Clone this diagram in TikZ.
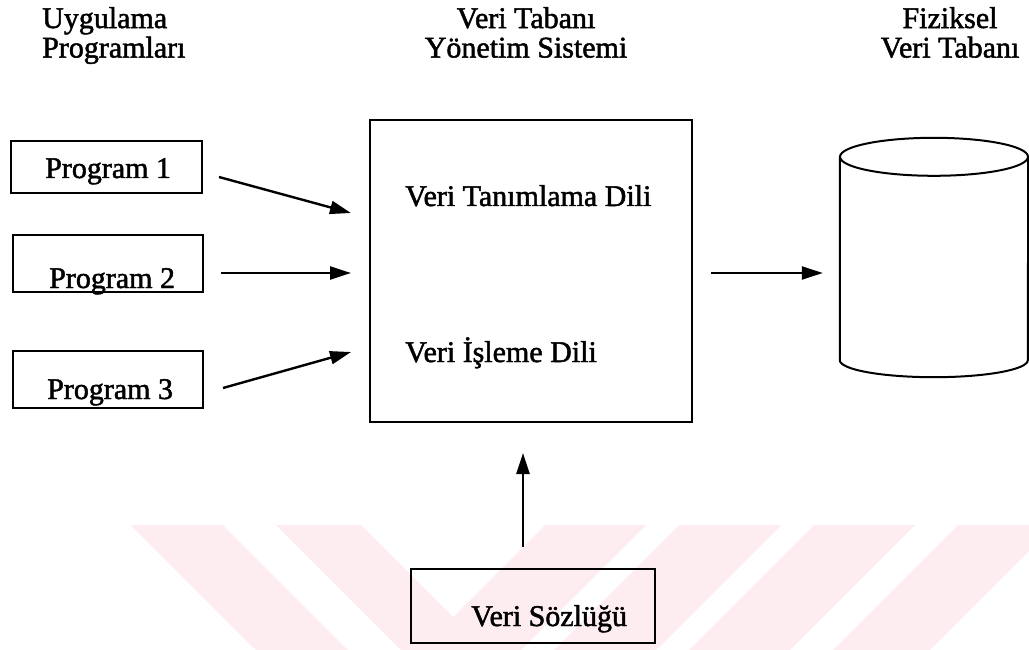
\documentclass[tikz,border=0pt]{standalone}
\usepackage{fontspec}
\setmainfont{Liberation Serif}
\newfontfamily\scanfont{Liberation Serif}[FakeBold=1.6]
\usetikzlibrary{arrows.meta,calc}
\definecolor{wmark}{RGB}{253,236,240}
\begin{document}
\begin{tikzpicture}[x=1pt,y=-1pt,
  txt/.style={font=\scanfont\fontsize{30}{29.5}\selectfont, inner sep=0pt},
  boxline/.style={draw, line width=2pt, inner sep=0pt},
  arr/.style={line width=2.4pt, -{Triangle[length=21pt,width=13pt]}},
]
\useasboundingbox (0,0) rectangle (1029,650);

% faint diagonal bands along the bottom edge
\begin{scope}
  \clip (0,525) rectangle (1029,650);
  \fill[wmark] (131,525) -- (223,525) -- (348,650) -- (256,650) -- cycle;
  \fill[wmark] (276,525) -- (361,525) -- (486,650) -- (401,650) -- cycle;
  \fill[wmark] (545,525) -- (646,525) -- (521,650) -- (420,650) -- cycle;
  \fill[wmark] (679,525) -- (781,525) -- (656,650) -- (554,650) -- cycle;
  \fill[wmark] (814,525) -- (915,525) -- (790,650) -- (689,650) -- cycle;
  \fill[wmark] (958,525) -- (1055,525) -- (930,650) -- (833,650) -- cycle;
\end{scope}

% column headings
\node[txt, anchor=north west, align=left] (happ) at (42,7) {Uygulama\\Programları};
\node[txt, anchor=north, align=center] (hdbms) at (526,7) {Veri Tabanı\\Yönetim Sistemi};
\node[txt, anchor=north, align=center] (hphys) at (950,7) {Fiziksel\\Veri Tabanı};

% application programs
\node[boxline, minimum width=191, minimum height=52] (p1) at (106.5,167) {};
\node[boxline, minimum width=190, minimum height=57] (p2) at (108,263.5) {};
\node[boxline, minimum width=190, minimum height=57] (p3) at (108,379.5) {};
\node[txt, anchor=base west] (p1t) at ([shift={(35,-16)}]p1.south west) {Program 1};
\node[txt, anchor=base west] (p2t) at ([shift={(37,-5)}]p2.south west) {Program 2};
\node[txt, anchor=base west] (p3t) at ([shift={(35,-10)}]p3.south west) {Program 3};

% database management system
\node[boxline, minimum width=322, minimum height=302] (dbms) at (531,271) {};
\node[txt, anchor=base west] (ddl) at ([shift={(36,87)}]dbms.north west) {Veri Tanımlama Dili};
\node[txt, anchor=base west] (dml) at ([shift={(36,243)}]dbms.north west) {Veri İşleme Dili};

% physical database (cylinder)
\node[inner sep=0pt, minimum width=188, minimum height=239] (cyl) at (934,257.5) {};
\draw[line width=2pt]
  ([shift={(0,19)}]cyl.north west)
  -- ([shift={(0,-17)}]cyl.south west)
  arc[start angle=180, end angle=0, x radius=94, y radius=17]
  -- ([shift={(0,19)}]cyl.north east);
\draw[line width=2pt] ([shift={(0,19)}]cyl.north) ellipse[x radius=94, y radius=19];

% data dictionary
\node[boxline, minimum width=244, minimum height=74] (dict) at (533,606) {};
\node[txt, anchor=base west] (dictt) at ([shift={(61,-18)}]dict.south west) {Veri Sözlüğü};

% connectors
\draw[arr] ([shift={(16,10)}]p1.east) -- ([shift={(-18,-58)}]dbms.west);
\draw[arr] ([shift={(17,9.5)}]p2.east) -- ([shift={(-18,2)}]dbms.west);
\draw[arr] ([shift={(19,8.5)}]p3.east) -- ([shift={(-18,81)}]dbms.west);
\draw[arr] ([shift={(18,2)}]dbms.east) -- ([shift={(-17,15.5)}]cyl.west);
\draw[arr] ([shift={(-10,-21)}]dict.north) -- ([shift={(-8,30)}]dbms.south);
\end{tikzpicture}
\end{document}
